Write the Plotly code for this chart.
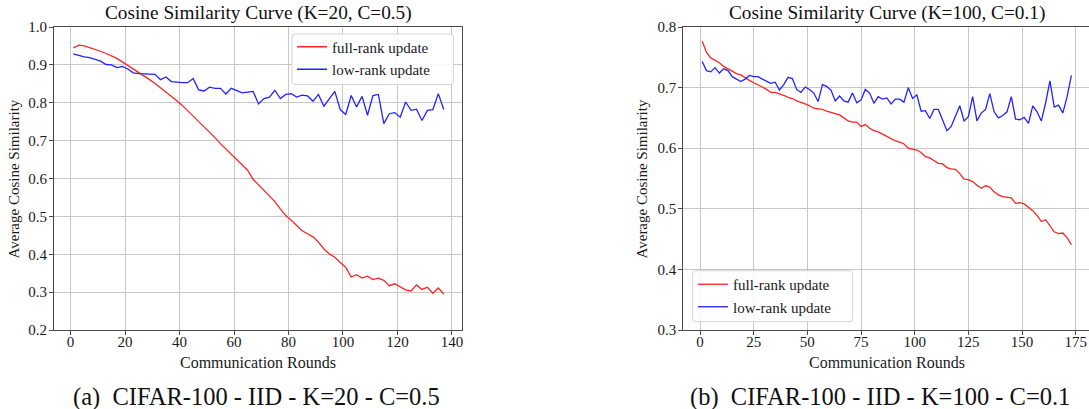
import plotly.graph_objects as go

W, H = 1089, 409

# ---------------- data: left panel (K=20, C=0.5) ----------------
rounds_a = list(range(1, 138, 2))
full_a = [0.945, 0.952, 0.950, 0.946, 0.941, 0.936, 0.930, 0.924, 0.917, 0.908,
          0.899, 0.890, 0.881, 0.871, 0.861, 0.851, 0.840, 0.829, 0.817, 0.805,
          0.793, 0.779, 0.765, 0.751, 0.737, 0.723, 0.708, 0.692, 0.678, 0.663,
          0.648, 0.634, 0.622, 0.598, 0.583, 0.568, 0.553, 0.539, 0.520, 0.502,
          0.490, 0.475, 0.462, 0.454, 0.446, 0.432, 0.414, 0.401, 0.392, 0.378,
          0.366, 0.340, 0.346, 0.337, 0.342, 0.333, 0.337, 0.331, 0.317, 0.322,
          0.313, 0.306, 0.303, 0.319, 0.307, 0.313, 0.297, 0.311, 0.295]
low_a = [0.929, 0.924, 0.921, 0.919, 0.915, 0.910, 0.901, 0.900, 0.893, 0.896,
         0.889, 0.879, 0.877, 0.877, 0.875, 0.875, 0.861, 0.868, 0.856, 0.854,
         0.853, 0.853, 0.864, 0.834, 0.831, 0.841, 0.838, 0.838, 0.823, 0.838,
         0.832, 0.826, 0.828, 0.830, 0.797, 0.811, 0.815, 0.833, 0.811, 0.822,
         0.824, 0.815, 0.820, 0.818, 0.804, 0.822, 0.791, 0.810, 0.830, 0.782,
         0.769, 0.819, 0.789, 0.817, 0.767, 0.819, 0.822, 0.745, 0.771, 0.774,
         0.762, 0.802, 0.780, 0.783, 0.753, 0.780, 0.782, 0.824, 0.782]

# ---------------- data: right panel (K=100, C=0.1) ----------------
rounds_b = list(range(1, 174, 2))
full_b = [0.777, 0.758, 0.749, 0.745, 0.741, 0.735, 0.731, 0.726, 0.723, 0.721,
          0.716, 0.712, 0.708, 0.705, 0.701, 0.697, 0.692, 0.692, 0.690, 0.687,
          0.684, 0.682, 0.678, 0.676, 0.673, 0.670, 0.666, 0.665, 0.664, 0.661,
          0.659, 0.656, 0.655, 0.650, 0.645, 0.643, 0.643, 0.636, 0.639, 0.633,
          0.629, 0.627, 0.623, 0.619, 0.615, 0.612, 0.610, 0.607, 0.600, 0.599,
          0.597, 0.593, 0.586, 0.584, 0.580, 0.575, 0.574, 0.568, 0.566, 0.565,
          0.558, 0.549, 0.548, 0.545, 0.539, 0.534, 0.538, 0.536, 0.528, 0.523,
          0.520, 0.519, 0.518, 0.509, 0.510, 0.508, 0.503, 0.497, 0.489, 0.479,
          0.482, 0.472, 0.462, 0.459, 0.460, 0.452, 0.441]
low_b = [0.743, 0.728, 0.726, 0.733, 0.724, 0.731, 0.728, 0.718, 0.714, 0.710,
         0.714, 0.720, 0.718, 0.718, 0.714, 0.711, 0.707, 0.709, 0.696, 0.705,
         0.717, 0.715, 0.697, 0.692, 0.701, 0.697, 0.691, 0.677, 0.705, 0.702,
         0.696, 0.678, 0.686, 0.678, 0.676, 0.691, 0.675, 0.680, 0.697, 0.691,
         0.674, 0.685, 0.681, 0.683, 0.673, 0.681, 0.681, 0.676, 0.700, 0.682,
         0.688, 0.661, 0.662, 0.649, 0.664, 0.664, 0.646, 0.629, 0.636, 0.652,
         0.670, 0.645, 0.652, 0.685, 0.645, 0.658, 0.664, 0.690, 0.660, 0.650,
         0.654, 0.660, 0.685, 0.648, 0.647, 0.651, 0.641, 0.670, 0.660, 0.645,
         0.675, 0.711, 0.668, 0.671, 0.658, 0.685, 0.720]

titles = ["Cosine Similarity Curve (K=20, C=0.5)", "Cosine Similarity Curve (K=100, C=0.1)"]
captions = ["(a)  CIFAR-100 - IID - K=20 - C=0.5", "(b)  CIFAR-100 - IID - K=100 - C=0.1"]
xlabel = "Communication Rounds"
ylabel = "Average Cosine Similarity"
series_names = ["full-rank update", "low-rank update"]
xticks_a = [0, 20, 40, 60, 80, 100, 120, 140]
yticks_a = [0.2, 0.3, 0.4, 0.5, 0.6, 0.7, 0.8, 0.9, 1.0]
xticks_b = [0, 25, 50, 75, 100, 125, 150, 175]
yticks_b = [0.3, 0.4, 0.5, 0.6, 0.7, 0.8]

RED = "rgb(255,35,35)"
BLUE = "rgb(35,35,255)"
SERIF = "Liberation Serif"
TXT = "#1a1a1a"


def px(x):
    return x / W


def py(y):
    return 1 - y / H


fig = go.Figure()
fig.add_trace(go.Scatter(x=rounds_a, y=full_a, mode="lines", name=series_names[0],
                         line=dict(color=RED, width=1.3), xaxis="x", yaxis="y", legend="legend"))
fig.add_trace(go.Scatter(x=rounds_a, y=low_a, mode="lines", name=series_names[1],
                         line=dict(color=BLUE, width=1.3), xaxis="x", yaxis="y", legend="legend"))
fig.add_trace(go.Scatter(x=rounds_b, y=full_b, mode="lines", name=series_names[0],
                         line=dict(color=RED, width=1.3), xaxis="x2", yaxis="y2", legend="legend2"))
fig.add_trace(go.Scatter(x=rounds_b, y=low_b, mode="lines", name=series_names[1],
                         line=dict(color=BLUE, width=1.3), xaxis="x2", yaxis="y2", legend="legend2"))

axis_common = dict(
    automargin=False,
    showgrid=True, gridcolor="#c8c8c8", gridwidth=1, zeroline=False,
    showline=True, linecolor="#4a4a4a", linewidth=1.2, mirror=True,
    ticks="outside", ticklen=4, tickcolor="#4a4a4a", tickwidth=1,
    tickfont=dict(family=SERIF, size=15, color=TXT),
)

LA = (54, 462)
LB = (683.3, 1089)
TOP, BOT = 27, 330

legend_common = dict(xanchor="left", yanchor="top", bgcolor="rgba(0,0,0,0)",
                     borderwidth=0, font=dict(family=SERIF, size=15, color=TXT),
                     itemwidth=30, tracegroupgap=0)

fig.update_layout(
    template="none",
    width=W, height=H, margin=dict(l=0, r=0, t=0, b=0, autoexpand=False),
    paper_bgcolor="white", plot_bgcolor="white",
    font=dict(family=SERIF, color=TXT),
    xaxis=dict(domain=[px(LA[0]), px(LA[1])], range=[-6.1, 143.7], tickvals=xticks_a,
               anchor="y", ticklabelstandoff=-6, **axis_common),
    yaxis=dict(domain=[py(BOT), py(TOP)], range=[0.2, 1.0], tickvals=yticks_a,
               tickformat=".1f", anchor="x", ticklabelstandoff=-1, **axis_common),
    xaxis2=dict(domain=[px(LB[0]), px(LB[1])], range=[-7.8, 181.2], tickvals=xticks_b,
                anchor="y2", ticklabelstandoff=-6, **axis_common),
    yaxis2=dict(domain=[py(BOT), py(TOP)], range=[0.3, 0.8], tickvals=yticks_b,
                tickformat=".1f", anchor="x2", ticklabelstandoff=-1, **axis_common),
    legend=dict(x=px(292), y=py(30.5), **legend_common),
    legend2=dict(x=px(693), y=py(268), **legend_common),
    showlegend=True,
)


def rounded_box(x0, y0, x1, y1, r=3):
    X0, X1 = px(x0), px(x1)
    Y0, Y1 = py(y0), py(y1)
    rx, ry = r / W, r / H
    return (f"M {X0+rx},{Y0} L {X1-rx},{Y0} Q {X1},{Y0} {X1},{Y0-ry} "
            f"L {X1},{Y1+ry} Q {X1},{Y1} {X1-rx},{Y1} L {X0+rx},{Y1} "
            f"Q {X0},{Y1} {X0},{Y1+ry} L {X0},{Y0-ry} Q {X0},{Y0} {X0+rx},{Y0} Z")


shapes = [
    dict(type="path", xref="paper", yref="paper", path=rounded_box(292, 34, 453.5, 84.5),
         fillcolor="rgba(255,255,255,0.85)", line=dict(color="#d4d4d4", width=1), layer="above"),
    dict(type="path", xref="paper", yref="paper", path=rounded_box(692.7, 270.7, 852.7, 321.7),
         fillcolor="rgba(255,255,255,0.85)", line=dict(color="#d4d4d4", width=1), layer="above"),
]
fig.update_layout(shapes=shapes)

ann = []
centers = [(LA[0] + LA[1]) / 2, (LB[0] + 1090) / 2]
for i in range(2):
    ann.append(dict(text=titles[i], x=px(centers[i]), y=py(13), xref="paper", yref="paper",
                    xanchor="center", yanchor="middle", showarrow=False,
                    font=dict(family=SERIF, size=19.3, color="#111111")))
    ann.append(dict(text=xlabel, x=px(centers[i]), y=py(362.5), xref="paper", yref="paper",
                    xanchor="center", yanchor="middle", showarrow=False,
                    font=dict(family=SERIF, size=16, color=TXT)))
ann.append(dict(text=ylabel, x=px(13.5), y=py(179), xref="paper", yref="paper",
                xanchor="center", yanchor="middle", showarrow=False, textangle=-90,
                font=dict(family=SERIF, size=15, color=TXT)))
ann.append(dict(text=ylabel, x=px(641.5), y=py(179), xref="paper", yref="paper",
                xanchor="center", yanchor="middle", showarrow=False, textangle=-90,
                font=dict(family=SERIF, size=15, color=TXT)))
ann.append(dict(text=captions[0], x=px(256.7), y=py(397), xref="paper", yref="paper",
                xanchor="center", yanchor="middle", showarrow=False,
                font=dict(family=SERIF, size=24.5, color="#111111")))
ann.append(dict(text=captions[1], x=px(880), y=py(397), xref="paper", yref="paper",
                xanchor="center", yanchor="middle", showarrow=False,
                font=dict(family=SERIF, size=24.5, color="#111111")))
fig.update_layout(annotations=ann)

fig.write_html("out.html", config={"displayModeBar": False},
               post_script="document.body.style.margin='0';document.body.style.overflow='hidden';")
